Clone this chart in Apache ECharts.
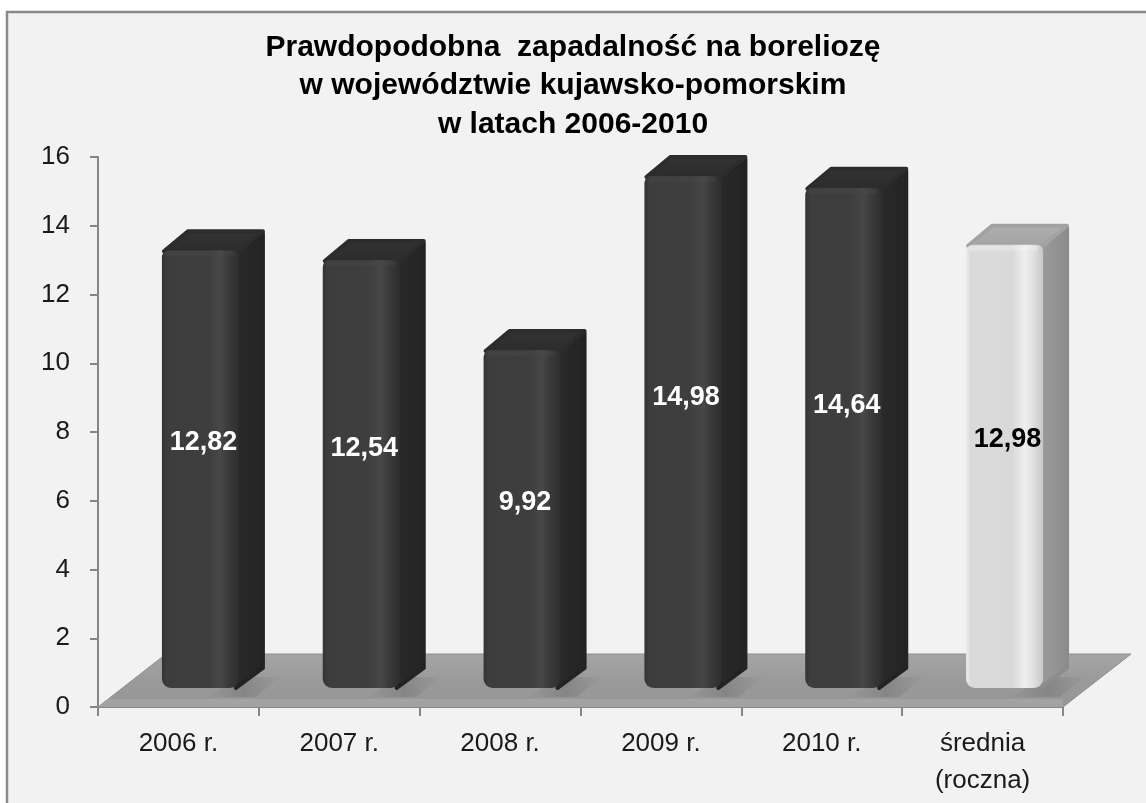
<!DOCTYPE html>
<html>
<head>
<meta charset="utf-8">
<title>Prawdopodobna zapadalność na boreliozę</title>
<script src="https://cdn.jsdelivr.net/npm/echarts@6/dist/echarts.min.js"></script>
<style>
  html, body { margin: 0; padding: 0; background: #ffffff; }
  #chart { width: 1146px; height: 803px; }
</style>
</head>
<body>
<div id="chart"></div>
<script>
// Categories, values and tick settings
const categories = ['2006 r.', '2007 r.', '2008 r.', '2009 r.', '2010 r.', 'średnia\n(roczna)'];
const values = [12.82, 12.54, 9.92, 14.98, 14.64, 12.98];
const tones = ['dark', 'dark', 'dark', 'dark', 'dark', 'light'];
const yMin = 0;
const yMax = 16;
const yStep = 2;
const titleLines = [
  'Prawdopodobna  zapadalność na boreliozę',
  'w województwie kujawsko-pomorskim',
  'w latach 2006-2010'
];

const FONT = '"Liberation Sans", Arial, sans-serif';

// Colour sets for the two bar tones
const palettes = {
  dark: {
    front: ['#333333', '#3d3d3d', '#3e3e3e', '#474747', '#3a3a3a', '#2e2e2e'],
    side: ['#2a2a2a', '#232323'],
    top: ['#2c2c2c', '#333333'],
    edge: '#4a4a4a',
    text: '#ffffff'
  },
  light: {
    front: ['#ececec', '#dadada', '#d9d9d9', '#efefef', '#e2e2e2', '#c8c8c8'],
    side: ['#9c9c9c', '#8c8c8c'],
    top: ['#a2a2a2', '#b0b0b0'],
    edge: '#f6f6f6',
    text: '#000000'
  }
};

// 3D geometry of a bar: front face lifted from the axis plane, plus depth
const LIFT = 19, FRONT_OFF = -16.5, FRONT_W = 77, DX = 24, DY = -20;

function fmt(v) {
  return v.toFixed(2).replace('.', ',');
}

function renderBar(params, api) {
  const i = api.value(0);
  const v = api.value(1);
  const top = api.coord([i, v]);
  const base = api.coord([i, 0]);
  const pal = palettes[tones[i]];
  const fl = top[0] + FRONT_OFF;
  const fr = fl + FRONT_W;
  const ft = top[1] - LIFT + 3;
  const fb = base[1] - LIFT;
  const grad = (x1, y1, x2, y2, stops) => new echarts.graphic.LinearGradient(x1, y1, x2, y2, stops);
  const fs = pal.front;
  const labelY = base[1] - (base[1] - top[1]) * 0.6;
  return {
    type: 'group',
    children: [
      {
        type: 'polygon',
        shape: { points: [[fr - 3, ft + 2], [fr + DX, ft + DY + 3], [fr + DX, fb + DY], [fr - 3, fb]] },
        style: { fill: grad(0, 0, 1, 0, [{ offset: 0, color: pal.side[0] }, { offset: 1, color: pal.side[1] }]), stroke: pal.side[1], lineWidth: 4, lineJoin: 'round' }
      },
      {
        type: 'polygon',
        shape: { points: [[fl + 2, ft + 1], [fl + DX + 2, ft + DY + 1], [fr + DX, ft + DY + 1], [fr, ft + 1]] },
        style: { fill: grad(0, 1, 0, 0, [{ offset: 0, color: pal.top[0] }, { offset: 1, color: pal.top[1] }]), stroke: pal.top[0], lineWidth: 4, lineJoin: 'round' }
      },
      {
        type: 'rect',
        shape: { x: fl, y: ft, width: FRONT_W, height: fb - ft, r: [7, 6, 9, 9] },
        style: {
          fill: grad(0, 0, 1, 0, [
            { offset: 0, color: fs[0] }, { offset: 0.06, color: fs[1] },
            { offset: 0.6, color: fs[2] }, { offset: 0.76, color: fs[3] },
            { offset: 0.86, color: fs[4] }, { offset: 1, color: fs[5] }
          ])
        }
      },
      {
        type: 'rect',
        shape: { x: fl + 3, y: ft + 1, width: FRONT_W - 8, height: 5, r: 3 },
        style: { fill: pal.edge, opacity: 0.35 }
      },
      {
        type: 'text',
        style: {
          text: fmt(v), x: (fl + fr) / 2 + 3, y: labelY,
          fill: pal.text, fontSize: 27, fontWeight: 'bold', fontFamily: FONT,
          align: 'center', verticalAlign: 'middle'
        }
      }
    ]
  };
}

// Floor slab under the bars, spanning the whole plot width
function renderFloor(params, api) {
  const cs = params.coordSys;
  const x0 = cs.x, x1 = cs.x + cs.width, y0 = cs.y + cs.height;
  const depthX = 68, depthY = -53;
  const shadows = values.map((v, i) => {
    const c = api.coord([i, 0]);
    const cx = c[0] + FRONT_OFF + FRONT_W / 2;
    return {
      type: 'polygon',
      shape: { points: [[cx + 40, y0 - 30], [cx + 80, y0 - 30], [cx + 55, y0 - 10], [cx + 5, y0 - 10]] },
      style: {
        fill: new echarts.graphic.LinearGradient(0, 0, 1, 0, [
          { offset: 0, color: 'rgba(110,110,110,0)' },
          { offset: 0.5, color: 'rgba(110,110,110,0.45)' },
          { offset: 1, color: 'rgba(110,110,110,0)' }
        ])
      }
    };
  });
  return {
    type: 'group',
    children: [
      {
        type: 'polygon',
        shape: { points: [[x0, y0], [x1, y0], [x1 + depthX, y0 + depthY], [x0 + depthX, y0 + depthY]] },
        style: {
          fill: new echarts.graphic.LinearGradient(0, 0, 0, 1, [
            { offset: 0, color: '#a5a5a5' },
            { offset: 0.5, color: '#9a9a9a' },
            { offset: 1, color: '#969696' }
          ]),
          stroke: '#8e8e8e', lineWidth: 1
        }
      }
    ].concat(shadows).concat([
      {
        type: 'polygon',
        shape: { points: [[x0 + 10, y0 - 8], [x1, y0 - 8], [x1, y0], [x0, y0]] },
        style: { fill: '#a4a4a4', opacity: 0.85 }
      }
    ])
  };
}

const chart = echarts.init(document.getElementById('chart'), null, { renderer: 'canvas' });

chart.setOption({
  backgroundColor: '#ffffff',
  animation: false,
  graphic: [
    {
      type: 'rect', z: -10, silent: true,
      shape: { x: 7, y: 12, width: 1160, height: 820 },
      style: { fill: '#f2f2f2', stroke: '#8a8a8a', lineWidth: 2.5 }
    }
  ],
  title: {
    text: titleLines.join('\n'),
    left: 'center',
    top: 23,
    textStyle: {
      fontFamily: FONT, fontSize: 30, fontWeight: 'bold', color: '#000000', lineHeight: 38.5
    }
  },
  grid: { left: 98, right: 83, top: 157, bottom: 96 },
  xAxis: {
    type: 'category',
    data: categories,
    boundaryGap: true,
    axisLine: { show: true, lineStyle: { color: '#868686', width: 2 } },
    axisTick: { show: true, length: 9, lineStyle: { color: '#868686', width: 2 } },
    axisLabel: { margin: 18, fontFamily: FONT, fontSize: 26, color: '#1a1a1a', lineHeight: 37, interval: 0 },
    splitLine: { show: false }
  },
  yAxis: {
    type: 'value',
    min: yMin, max: yMax, interval: yStep,
    axisLine: { show: true, lineStyle: { color: '#868686', width: 2 } },
    axisTick: { show: true, length: 8, lineStyle: { color: '#868686', width: 2 } },
    axisLabel: { margin: 28, fontFamily: FONT, fontSize: 26, color: '#1a1a1a' },
    splitLine: { show: false }
  },
  series: [
    {
      type: 'custom',
      name: 'floor',
      z: 1,
      silent: true,
      renderItem: renderFloor,
      data: [[0, 0]]
    },
    {
      type: 'custom',
      name: 'zapadalność',
      z: 3,
      renderItem: renderBar,
      encode: { x: 0, y: 1 },
      data: values.map((v, i) => [i, v])
    }
  ]
});
</script>
</body>
</html>
